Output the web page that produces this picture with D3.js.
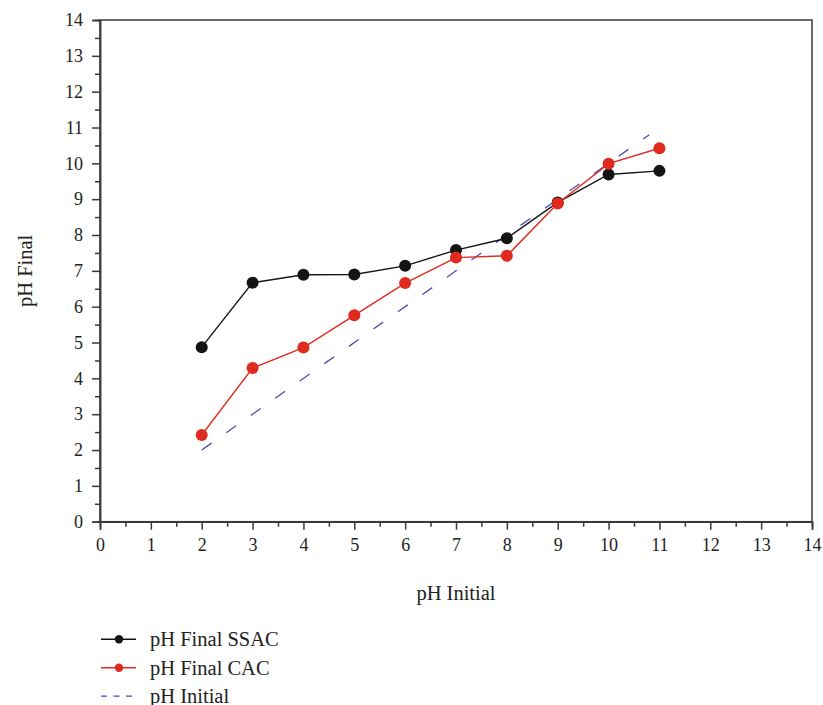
<!DOCTYPE html>
<html>
<head>
<meta charset="utf-8">
<script src="https://cdn.jsdelivr.net/npm/d3@7"></script>
<style>
  html, body { margin: 0; padding: 0; background: #fff; }
  svg { display: block; }
</style>
</head>
<body>
<svg id="chart" width="823" height="705"></svg>
<script>
// Initial pH of each test
const phInitial = [2, 3, 4, 5, 6, 7, 8, 9, 10, 11];
// Final pH measured for the two carbons
const phFinalSSAC = [4.87, 6.67, 6.89, 6.90, 7.14, 7.58, 7.91, 8.91, 9.69, 9.79];
const phFinalCAC  = [2.42, 4.29, 4.86, 5.76, 6.66, 7.37, 7.42, 8.88, 9.99, 10.42];
// Reference line: final pH equal to initial pH
const refLine = [2, 10.8];
const tickValues = d3.range(0, 15, 1);
const minorTicks = d3.range(0.5, 14, 1);
const legendLabels = ["pH Final SSAC", "pH Final CAC", "pH Initial"];

const serif = "'Liberation Serif', 'Times New Roman', serif";
const svg = d3.select("#chart");
const plotLeft = 100, plotRight = 812, plotTop = 20, plotBottom = 521.7;

const x = d3.scaleLinear().domain([0, 14]).range([plotLeft, plotRight]);
const y = d3.scaleLinear().domain([0, 14]).range([plotBottom, plotTop]);

const axisColor = "#3a3a3a";

// Frame
svg.append("rect")
  .attr("x", plotLeft).attr("y", plotTop)
  .attr("width", plotRight - plotLeft).attr("height", plotBottom - plotTop)
  .attr("fill", "none").attr("stroke", axisColor).attr("stroke-width", 1.5);

// Bottom axis
const gx = svg.append("g").attr("transform", `translate(0,${plotBottom})`);
gx.call(d3.axisBottom(x).tickValues(tickValues).tickSize(8).tickPadding(9).tickFormat(d3.format("d")));
gx.append("g").call(d3.axisBottom(x).tickValues(minorTicks).tickSize(5).tickFormat(""));

// Left axis
const gy = svg.append("g").attr("transform", `translate(${plotLeft},0)`);
gy.call(d3.axisLeft(y).tickValues(tickValues).tickSize(8).tickPadding(9).tickFormat(d3.format("d")));
gy.append("g").call(d3.axisLeft(y).tickValues(minorTicks).tickSize(5).tickFormat(""));

svg.selectAll(".domain").attr("stroke", axisColor).attr("stroke-width", 1.5);
svg.selectAll(".tick line").attr("stroke", axisColor).attr("stroke-width", 1.5);
svg.selectAll(".tick text")
  .attr("fill", "#222")
  .attr("font-family", serif)
  .attr("font-size", 18);

// Reference dashed line
svg.append("path")
  .datum(refLine)
  .attr("d", d3.line().x(d => x(d)).y(d => y(d)))
  .attr("fill", "none")
  .attr("stroke", "#4b4bb8")
  .attr("stroke-width", 1.3)
  .attr("stroke-dasharray", "12,18");

const series = [
  { values: phFinalSSAC, color: "#141414" },
  { values: phFinalCAC, color: "#e02a1e" }
];

const line = d3.line().x(d => x(d[0])).y(d => y(d[1]));

series.forEach(s => {
  const pts = phInitial.map((v, i) => [v, s.values[i]]);
  svg.append("path")
    .datum(pts)
    .attr("d", line)
    .attr("fill", "none")
    .attr("stroke", s.color)
    .attr("stroke-width", 1.4);
  svg.append("g").selectAll("circle")
    .data(pts)
    .join("circle")
    .attr("cx", d => x(d[0]))
    .attr("cy", d => y(d[1]))
    .attr("r", 6)
    .attr("fill", s.color);
});

// Axis titles
svg.append("text")
  .attr("x", 456)
  .attr("y", 600)
  .attr("text-anchor", "middle")
  .attr("fill", "#222")
  .attr("font-family", serif)
  .attr("font-size", 20.5)
  .text("pH Initial");

svg.append("text")
  .attr("transform", `translate(32,${(plotTop + plotBottom) / 2}) rotate(-90)`)
  .attr("text-anchor", "middle")
  .attr("fill", "#222")
  .attr("font-family", serif)
  .attr("font-size", 20.5)
  .text("pH Final");

// Legend
const legend = svg.append("g");
const legendItems = [
  { label: legendLabels[0], color: "#141414", marker: true, dash: null },
  { label: legendLabels[1], color: "#e02a1e", marker: true, dash: null },
  { label: legendLabels[2], color: "#4b4bb8", marker: false, dash: "6,6.5" }
];
legendItems.forEach((it, i) => {
  const ly = 639.3 + i * 28.4;
  legend.append("line")
    .attr("x1", 101).attr("x2", 136)
    .attr("y1", ly).attr("y2", ly)
    .attr("stroke", it.color)
    .attr("stroke-width", 1.4)
    .attr("stroke-dasharray", it.dash);
  if (it.marker) {
    legend.append("circle")
      .attr("cx", 119).attr("cy", ly).attr("r", 4.2)
      .attr("fill", it.color);
  }
  legend.append("text")
    .attr("x", 150).attr("y", ly + 7)
    .attr("fill", "#222")
    .attr("font-family", serif)
    .attr("font-size", 20.5)
    .text(it.label);
});
</script>
</body>
</html>
